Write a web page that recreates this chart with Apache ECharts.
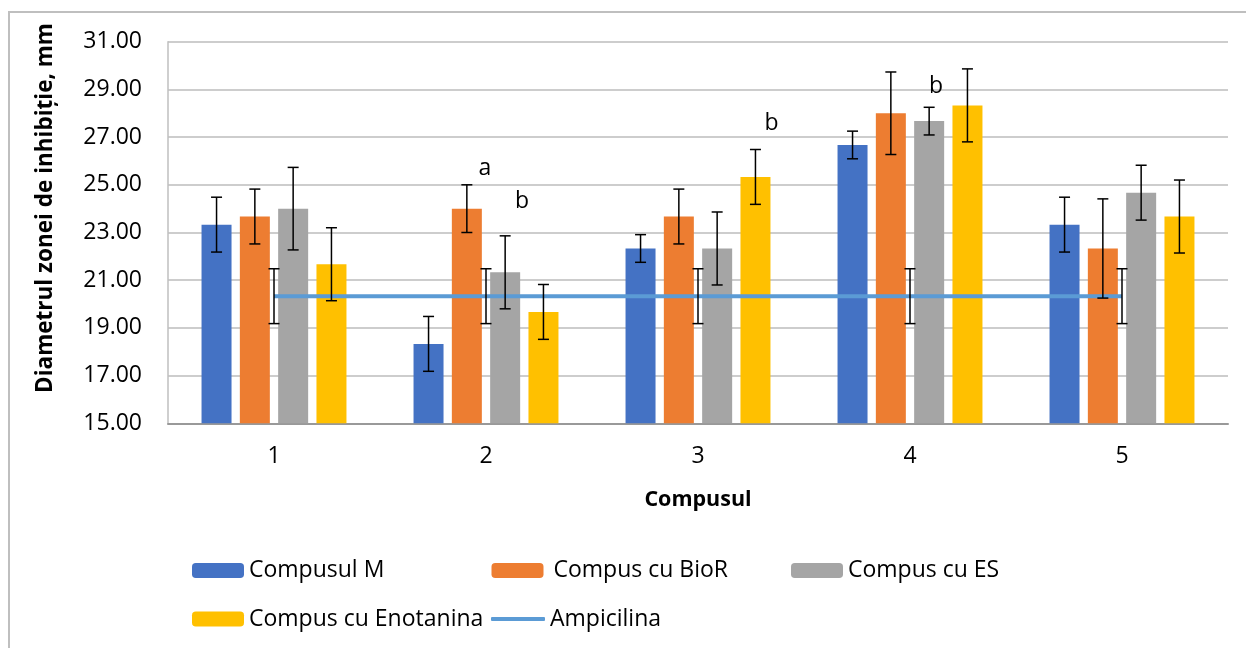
<!DOCTYPE html>
<html>
<head>
<meta charset="utf-8">
<title>Diametrul zonei de inhibiție</title>
<script src="https://cdn.jsdelivr.net/npm/echarts@6.0.0/dist/echarts.min.js"></script>
<style>
  html, body { margin: 0; padding: 0; background: #ffffff; }
  #chart { width: 1246px; height: 648px; }
</style>
</head>
<body>
<div id="chart"></div>
<script>
// ---- data ----
const categories = ['1', '2', '3', '4', '5'];
const seriesNames = ['Compusul M', 'Compus cu BioR', 'Compus cu ES', 'Compus cu Enotanina'];

const compusulM      = [23.33, 18.33, 22.33, 26.67, 23.33];
const compusulM_sd   = [1.15, 1.15, 0.58, 0.58, 1.15];
const compusBioR     = [23.67, 24.00, 23.67, 28.00, 22.33];
const compusBioR_sd  = [1.15, 1.00, 1.15, 1.73, 2.08];
const compusES       = [24.00, 21.33, 22.33, 27.67, 24.67];
const compusES_sd    = [1.73, 1.53, 1.53, 0.58, 1.15];
const compusEnot     = [21.67, 19.67, 25.33, 28.33, 23.67];
const compusEnot_sd  = [1.53, 1.15, 1.15, 1.53, 1.53];
const ampicilina     = [20.33, 20.33, 20.33, 20.33, 20.33];
const ampicilina_sd  = [1.15, 1.15, 1.15, 1.15, 1.15];

// significance letters written above the error bars
const notesBioR = ['', 'a', '', '', ''];
const notesES   = ['', 'b', '', 'b', ''];
const notesEnot = ['', '', 'b', '', ''];

const yTicks = { min: 15, max: 31, step: 2 };

// ---- styling ----
const FONT = '"Open Sans", "Noto Sans", sans-serif';
const COLORS = ['#4472C4', '#ED7D31', '#A5A5A5', '#FFC000'];
const LINE_COLOR = '#5B9BD5';
const BAR_W = 30;
const BAR_GAP_PX = 8.3;
const CAP_HALF = 5.5;

// pixel nudges for the letters, relative to the top of the error bar
const noteOffsets = {
  1: { 1: [18, -16] },
  2: { 1: [17, -34], 3: [7, -21] },
  3: { 2: [16, -26] }
};

const barMeans = [compusulM, compusBioR, compusES, compusEnot];
const barSds = [compusulM_sd, compusBioR_sd, compusES_sd, compusEnot_sd];
const barNotes = [null, notesBioR, notesES, notesEnot];

function errData(means, sds) {
  return means.map((m, i) => [i, m - sds[i], m + sds[i], m]);
}

function errorRenderer(seriesIdx, notes) {
  const offset = seriesIdx === null ? 0 : (seriesIdx - 1.5) * (BAR_W + BAR_GAP_PX);
  return function (params, api) {
    const cat = api.value(0);
    const lo = api.coord([cat, api.value(1)]);
    const hi = api.coord([cat, api.value(2)]);
    const x = hi[0] + offset;
    const st = { stroke: '#000', lineWidth: 1.5 };
    const children = [
      { type: 'line', shape: { x1: x, y1: hi[1], x2: x, y2: lo[1] }, style: st },
      { type: 'line', shape: { x1: x - CAP_HALF, y1: hi[1], x2: x + CAP_HALF, y2: hi[1] }, style: st },
      { type: 'line', shape: { x1: x - CAP_HALF, y1: lo[1], x2: x + CAP_HALF, y2: lo[1] }, style: st }
    ];
    if (notes && notes[cat]) {
      const off = (noteOffsets[seriesIdx] && noteOffsets[seriesIdx][cat]) || [0, -20];
      children.push({
        type: 'text',
        x: x + off[0],
        y: hi[1] + off[1],
        style: {
          text: notes[cat], fill: '#000', font: '23px ' + FONT,
          align: 'center', verticalAlign: 'middle'
        }
      });
    }
    return { type: 'group', children: children };
  };
}

const series = [];
barMeans.forEach((vals, k) => {
  series.push({
    name: seriesNames[k],
    type: 'bar',
    data: vals,
    barWidth: BAR_W,
    barGap: (BAR_GAP_PX / BAR_W * 100).toFixed(1) + '%',
    itemStyle: { color: COLORS[k] },
    z: 2
  });
});
series.push({
  name: 'Ampicilina',
  type: 'line',
  data: ampicilina,
  symbol: 'none',
  lineStyle: { color: LINE_COLOR, width: 4 },
  itemStyle: { color: LINE_COLOR },
  z: 3
});
barMeans.forEach((vals, k) => {
  series.push({
    type: 'custom',
    renderItem: errorRenderer(k, barNotes[k]),
    data: errData(vals, barSds[k]),
    encode: { x: 0, y: [1, 2] },
    z: 4,
    silent: true
  });
});
series.push({
  type: 'custom',
  renderItem: errorRenderer(null, null),
  data: errData(ampicilina, ampicilina_sd),
  encode: { x: 0, y: [1, 2] },
  z: 4,
  silent: true
});

const legendText = { fontFamily: FONT, fontSize: 23, color: '#000' };
function legendAt(name, left, top, extra) {
  return Object.assign({
    data: [name], left: left, top: top, padding: 0,
    itemWidth: 52, itemHeight: 15, selectedMode: false,
    textStyle: Object.assign({}, legendText)
  }, extra || {});
}

const chart = echarts.init(document.getElementById('chart'), null, { renderer: 'canvas' });
chart.setOption({
  animation: false,
  backgroundColor: '#ffffff',
  textStyle: { fontFamily: FONT },
  grid: { left: 168, right: 18, top: 41.7, bottom: 224.7 },
  xAxis: {
    type: 'category',
    data: categories,
    axisTick: { show: false },
    axisLine: { lineStyle: { color: '#999999', width: 2 } },
    axisLabel: { color: '#000', fontSize: 23, fontFamily: FONT, margin: 22 },
    name: 'Compusul',
    nameLocation: 'middle',
    nameGap: 66,
    nameTextStyle: { color: '#000', fontSize: 21.5, fontWeight: 'bold', fontFamily: FONT }
  },
  yAxis: {
    type: 'value',
    min: yTicks.min,
    max: yTicks.max,
    interval: yTicks.step,
    axisLine: { show: true, lineStyle: { color: '#BFBFBF', width: 1.5 } },
    axisTick: { show: false },
    splitLine: { lineStyle: { color: '#BDBDBD', width: 1.5 } },
    axisLabel: {
      color: '#000', fontSize: 23, fontFamily: FONT, margin: 26,
      formatter: v => v.toFixed(2)
    }
  },
  legend: [
    legendAt('Compusul M', 192, 559),
    legendAt('Compus cu BioR', 491.5, 559, { textStyle: Object.assign({}, legendText, { padding: [0, 0, 0, 5] }) }),
    legendAt('Compus cu ES', 791, 559),
    legendAt('Compus cu Enotanina', 192, 607.5),
    legendAt('Ampicilina', 491, 607.5, {
      data: [{ name: 'Ampicilina', icon: 'roundRect' }],
      itemWidth: 54, itemHeight: 4
    })
  ],
  graphic: [
    {
      type: 'rect', z: -1, silent: true,
      shape: { x: 9, y: 12, width: 1300, height: 700 },
      style: { fill: 'none', stroke: '#BFBFBF', lineWidth: 2 }
    },
    {
      type: 'text', x: 46, y: 208, rotation: Math.PI / 2, silent: true,
      style: {
        text: 'Diametrul zonei de inhibiție, mm',
        font: 'bold 22.5px ' + FONT, fill: '#000',
        align: 'center', verticalAlign: 'middle'
      }
    }
  ],
  series: series
});
</script>
</body>
</html>
